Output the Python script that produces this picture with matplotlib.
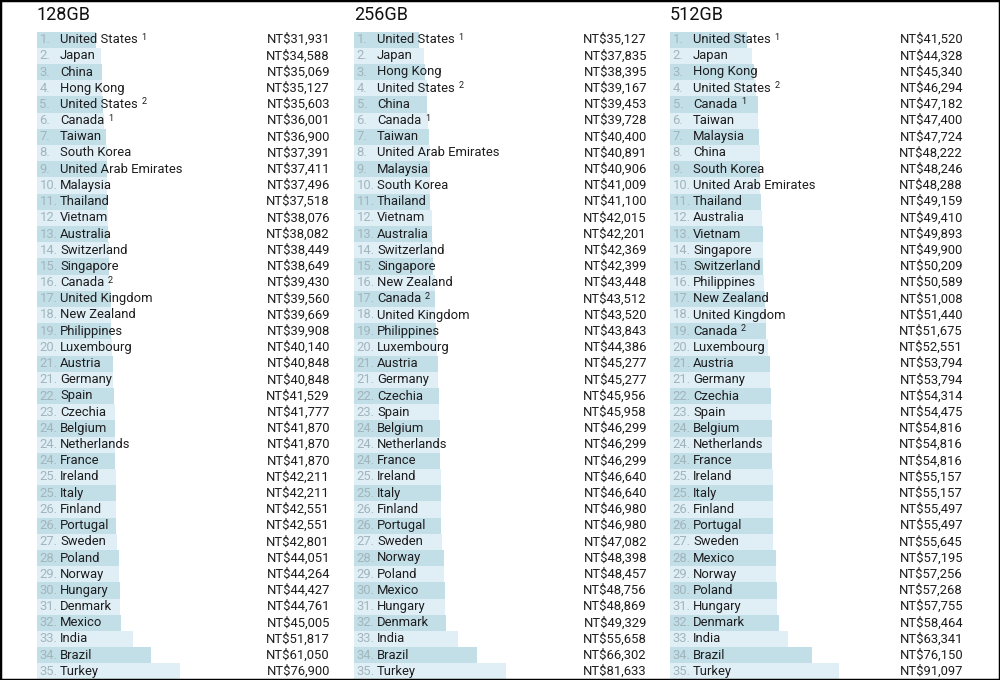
import matplotlib
matplotlib.use("Agg")
import matplotlib.pyplot as plt
from matplotlib.patches import Rectangle
import matplotlib.transforms as mtransforms

plt.rcParams['font.family'] = ['Roboto', 'DejaVu Sans']

titles = ["128GB", "256GB", "512GB"]

ranks = [1, 2, 3, 4, 5, 6, 7, 8, 9, 10, 11, 12, 13, 14, 15, 16, 17, 18, 19, 20,
         21, 21, 22, 23, 24, 24, 24, 25, 25, 26, 26, 27, 28, 29, 30, 31, 32, 33, 34, 35]

names_128 = ["United States ¹", "Japan", "China", "Hong Kong", "United States ²", "Canada ¹",
             "Taiwan", "South Korea", "United Arab Emirates", "Malaysia", "Thailand", "Vietnam",
             "Australia", "Switzerland", "Singapore", "Canada ²", "United Kingdom", "New Zealand",
             "Philippines", "Luxembourg", "Austria", "Germany", "Spain", "Czechia", "Belgium",
             "Netherlands", "France", "Ireland", "Italy", "Finland", "Portugal", "Sweden",
             "Poland", "Norway", "Hungary", "Denmark", "Mexico", "India", "Brazil", "Turkey"]
prices_128 = [31931, 34588, 35069, 35127, 35603, 36001, 36900, 37391, 37411, 37496, 37518,
              38076, 38082, 38449, 38649, 39430, 39560, 39669, 39908, 40140, 40848, 40848,
              41529, 41777, 41870, 41870, 41870, 42211, 42211, 42551, 42551, 42801, 44051,
              44264, 44427, 44761, 45005, 51817, 61050, 76900]

names_256 = ["United States ¹", "Japan", "Hong Kong", "United States ²", "China", "Canada ¹",
             "Taiwan", "United Arab Emirates", "Malaysia", "South Korea", "Thailand", "Vietnam",
             "Australia", "Switzerland", "Singapore", "New Zealand", "Canada ²", "United Kingdom",
             "Philippines", "Luxembourg", "Austria", "Germany", "Czechia", "Spain", "Belgium",
             "Netherlands", "France", "Ireland", "Italy", "Finland", "Portugal", "Sweden",
             "Norway", "Poland", "Mexico", "Hungary", "Denmark", "India", "Brazil", "Turkey"]
prices_256 = [35127, 37835, 38395, 39167, 39453, 39728, 40400, 40891, 40906, 41009, 41100,
              42015, 42201, 42369, 42399, 43448, 43512, 43520, 43843, 44386, 45277, 45277,
              45956, 45958, 46299, 46299, 46299, 46640, 46640, 46980, 46980, 47082, 48398,
              48457, 48756, 48869, 49329, 55658, 66302, 81633]

names_512 = ["United States ¹", "Japan", "Hong Kong", "United States ²", "Canada ¹", "Taiwan",
             "Malaysia", "China", "South Korea", "United Arab Emirates", "Thailand", "Australia",
             "Vietnam", "Singapore", "Switzerland", "Philippines", "New Zealand", "United Kingdom",
             "Canada ²", "Luxembourg", "Austria", "Germany", "Czechia", "Spain", "Belgium",
             "Netherlands", "France", "Ireland", "Italy", "Finland", "Portugal", "Sweden",
             "Mexico", "Norway", "Poland", "Hungary", "Denmark", "India", "Brazil", "Turkey"]
prices_512 = [41520, 44328, 45340, 46294, 47182, 47400, 47724, 48222, 48246, 48288, 49159,
              49410, 49893, 49900, 50209, 50589, 51008, 51440, 51675, 52551, 53794, 53794,
              54314, 54475, 54816, 54816, 54816, 55157, 55157, 55497, 55497, 55645, 57195,
              57256, 57268, 57755, 58464, 63341, 76150, 91097]

panels = [(names_128, prices_128), (names_256, prices_256), (names_512, prices_512)]

SUP = {"¹": "1", "²": "2"}

W, H = 1000, 680
fig = plt.figure(figsize=(W / 100, H / 100), dpi=100)

dark = "#c2dee7"
light = "#e0eff5"
rank_color = "#a2b5bd"
text_color = "#1d1d1f"

lefts_px = [37, 354, 670]
panel_w = 293
top_px = 31.5
bot_px = 679.5
fs = 9.4

for (names, prices), title, lp in zip(panels, titles, lefts_px):
    ax = fig.add_axes([lp / W, (H - bot_px) / H, panel_w / W, (bot_px - top_px) / H])
    n = len(names)
    ys = list(range(n))
    colors = [dark if i % 2 == 0 else light for i in ys]
    ax.barh(ys, prices, height=1.0, color=colors, linewidth=0)
    ax.set_xlim(0, panel_w / 0.00186)
    ax.set_ylim(n - 0.5, -0.5)
    ax.axis('off')
    trans = mtransforms.blended_transform_factory(ax.transAxes, ax.transData)
    for i, (r, nm, p) in enumerate(zip(ranks, names, prices)):
        ax.text(2.5 / panel_w, i, f"{r}.", transform=trans, ha='left', va='center',
                fontsize=fs, color=rank_color)
        sup = None
        base = nm
        if nm[-1] in SUP:
            sup = SUP[nm[-1]]
            base = nm[:-1].rstrip()
        t = ax.text(23 / panel_w, i, base, transform=trans, ha='left', va='center',
                    fontsize=fs, color=text_color)
        if sup:
            ax.annotate(sup, xy=(1, 1), xycoords=t, xytext=(2.6, 0.3),
                        textcoords='offset points', ha='left', va='top',
                        fontsize=6.6, color=text_color)
        ax.text(1.0, i, f"NT${p:,}", transform=trans, ha='right', va='center',
                fontsize=fs, color=text_color)
    fig.text(lp / W, (H - 20) / H, title, ha='left', va='baseline',
             fontsize=13, color="#111111")

fig.add_artist(Rectangle((0, 0), 1, 1, transform=fig.transFigure, fill=False,
                         edgecolor='black', linewidth=2.5, clip_on=False))

fig.savefig("out.png", dpi=100)
